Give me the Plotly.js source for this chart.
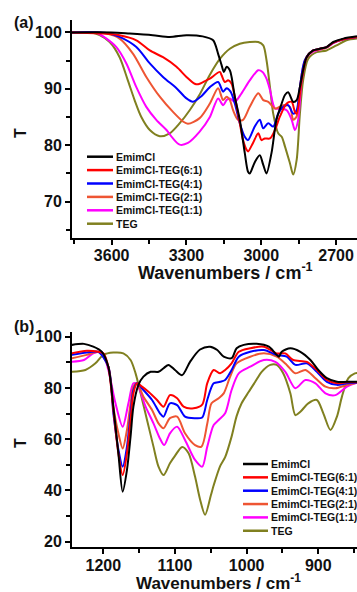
<!DOCTYPE html>
<html>
<head>
<meta charset="utf-8">
<script src="https://cdn.plot.ly/plotly-3.0.1.min.js"></script>
<style>html,body{margin:0;padding:0;background:#fff;}#chart{width:357px;height:592px;}</style>
</head>
<body>
<div id="chart"></div>
<script>
// ---------- Series names ----------
const seriesNames = ["EmimCl", "EmimCl-TEG(6:1)", "EmimCl-TEG(4:1)", "EmimCl-TEG(2:1)", "EmimCl-TEG(1:1)", "TEG"];

// ---------- Panel (a): 3760-2616 cm-1 ----------
const aEmimWn = [3760,3600,3528,3435,3367,3300,3235,3193,3173,3159,3150,3139,3126,3119,3106,3086,3066,3053,3046,3026,3006,2992,2979,2959,2939,2918,2905,2892,2872,2858,2845,2832,2818,2792,2765,2738,2711,2671,2616];
const aEmimT  = [100,100,99.8,99.5,99.2,99.5,99.3,98.6,96.2,94.2,93.0,93.9,93.3,92.1,88.6,84.5,78.6,75.3,75.0,77.0,78.2,76.5,75.0,78.6,84.5,87.4,88.9,89.4,87.7,88.0,90.3,93.3,95.6,96.8,97.1,97.4,98.3,98.9,99.3];

const a61Wn = [3760,3636,3568,3501,3447,3394,3340,3300,3267,3253,3220,3206,3166,3159,3146,3133,3119,3106,3086,3073,3059,3053,3033,3012,2999,2986,2965,2945,2925,2898,2878,2865,2858,2838,2818,2792,2765,2738,2711,2671,2616];
const a61T  = [100,99.8,99.5,98.6,96.8,95.6,93.9,92.1,90.9,90.8,91.5,91.8,93.0,92.4,91.2,91.5,90.9,88.6,83.9,80.9,79.2,78.9,80.4,82.1,80.9,81.2,81.2,82.7,85.1,87.4,87.7,85.9,85.6,91.5,95.6,96.8,97.1,97.4,98.2,98.8,99.2];

const a41Wn = [3760,3620,3568,3501,3447,3394,3340,3300,3274,3240,3206,3173,3153,3139,3123,3106,3086,3066,3053,3026,3006,2992,2972,2952,2932,2912,2892,2872,2858,2845,2825,2792,2765,2738,2711,2671,2616];
const a41T  = [100,99.9,99.2,97.4,94.5,92.1,90.1,88.3,87.7,88.7,90.3,91.2,89.5,90.1,89.5,87.4,83.9,81.5,80.9,83.3,84.5,83.0,83.9,83.3,85.6,86.8,87.1,85.6,86.2,90.3,95.1,96.8,97.1,97.4,98.2,98.8,99.2];

const a21Wn = [3760,3620,3568,3514,3461,3407,3354,3314,3294,3247,3206,3173,3153,3139,3126,3113,3093,3073,3046,3012,2992,2972,2945,2912,2885,2872,2858,2845,2825,2792,2765,2738,2711,2671,2616];
const a21T  = [100,99.8,98.9,96.2,92.1,88.6,85.9,84.2,83.8,84.8,87.4,90.1,88.0,88.6,88.0,86.2,84.5,84.5,86.8,89.2,88.0,87.7,86.5,87.1,86.8,84.5,85.1,90.3,95.0,96.7,97.0,97.3,98.2,98.8,99.2];

const a11Wn = [3760,3660,3621,3581,3541,3501,3461,3421,3380,3354,3327,3294,3247,3206,3173,3153,3139,3126,3106,3079,3046,3012,2995,2979,2965,2945,2925,2898,2878,2865,2852,2838,2818,2792,2738,2711,2671,2616];
const a11T  = [100,99.9,98.9,97.4,94.5,90.3,86.8,84.5,82.7,81.2,80.1,80.4,82.4,85.0,88.3,87.1,88.0,88.3,87.7,89.2,91.5,93.3,93.0,91.8,89.8,86.5,86.5,86.2,84.5,82.7,84.5,91.5,95.6,96.6,97.3,98.1,98.8,99.2];

const aTegWn = [3760,3680,3648,3608,3568,3535,3508,3481,3447,3407,3367,3327,3287,3247,3206,3166,3126,3086,3046,3012,2992,2979,2965,2952,2932,2918,2905,2885,2872,2858,2845,2832,2812,2778,2738,2698,2658,2616];
const aTegT  = [100,100,99.5,98.3,95.6,91.5,88.0,85.0,82.7,81.6,82.1,83.9,86.2,89.0,92.5,95.3,97.1,98.0,98.3,98.3,97.7,95.1,90.3,85.6,82.1,81.5,79.8,76.8,74.8,77.4,85.6,91.5,95.3,96.5,96.8,97.7,98.6,98.9];

// ---------- Panel (b): 1244-846 cm-1 ----------
const bEmimWn = [1244,1227,1214,1202,1193,1186,1179,1173,1167,1162,1158,1151,1144,1134,1123,1116,1109,1100,1090,1079,1065,1051,1041,1032,1021,1014,1004,986,969,960,955,951,939,925,911,900,888,874,860,846];
const bEmimT  = [96.8,97.2,96.1,94.1,88.3,72.7,54.5,39.5,48.0,61.0,72.7,81.2,84.4,86.3,86.3,87.7,89.0,87.0,85.0,90.2,95.0,96.1,94.8,92.2,91.6,95.5,96.8,97.2,96.1,93.5,92.2,94.1,95.5,94.1,90.9,87.0,83.8,82.4,82.4,82.4];

const b61Wn = [1244,1223,1207,1200,1193,1186,1179,1173,1167,1162,1158,1153,1146,1137,1125,1116,1107,1097,1088,1074,1062,1055,1046,1037,1030,1021,1011,995,976,958,946,935,916,902,888,874,860,846];
const b61T  = [93.5,94.5,94.1,93.5,88.3,71.4,54.5,46.0,54.5,67.5,77.9,81.8,80.5,78.5,75.3,72.7,77.2,76.0,72.7,72.1,73.5,81.8,87.0,85.7,87.0,89.6,94.1,95.5,96.1,93.5,93.5,90.9,90.2,87.0,83.1,81.8,82.2,82.2];

const b41Wn = [1244,1223,1207,1193,1186,1179,1173,1167,1162,1158,1153,1144,1132,1121,1116,1107,1097,1086,1072,1062,1055,1046,1037,1030,1021,1011,995,976,958,944,932,916,902,888,874,860,846];
const b41T  = [92.9,93.8,94.1,88.3,70.1,56.0,49.3,57.1,70.1,79.2,81.8,79.2,75.3,70.1,68.8,74.0,73.3,68.8,68.2,68.5,75.3,81.8,82.4,83.1,87.0,92.2,94.1,94.8,92.9,92.2,89.0,89.6,86.3,82.4,81.2,81.8,82.0];

const b21Wn = [1244,1223,1207,1193,1186,1179,1173,1167,1162,1158,1153,1144,1132,1123,1116,1107,1097,1086,1072,1063,1055,1049,1039,1032,1023,1014,995,976,958,944,932,918,904,890,876,860,846];
const b21T  = [91.6,92.9,94.1,88.3,72.7,62.3,56.4,63.6,74.0,80.5,81.8,76.6,71.4,66.2,64.3,68.2,68.8,62.3,57.7,57.1,66.0,74.0,76.0,77.9,84.4,89.6,92.2,93.5,92.2,89.0,85.7,87.0,83.8,80.5,79.9,81.2,82.0];

const b11Wn = [1244,1227,1214,1202,1193,1183,1173,1165,1158,1153,1141,1130,1121,1115,1107,1097,1086,1072,1062,1055,1046,1039,1030,1021,1011,995,976,960,946,932,918,904,890,876,860,846];
const b11T  = [90.2,90.9,93.5,94.1,87.0,74.0,64.9,74.0,81.8,81.5,72.7,66.2,60.3,57.7,62.3,64.9,59.7,51.9,49.3,57.0,65.5,67.5,70.1,79.2,85.7,88.3,90.9,90.2,86.3,79.9,83.1,81.8,77.9,77.2,80.5,82.0];

const bTegWn = [1244,1225,1211,1200,1186,1172,1162,1155,1148,1139,1130,1123,1116,1107,1100,1090,1081,1072,1065,1058,1050,1046,1037,1030,1021,1014,1007,997,988,979,967,958,949,939,932,925,914,902,893,883,874,867,858,849,846];
const bTegT  = [86.3,87.0,89.6,92.9,93.8,93.5,90.9,85.7,77.9,67.5,57.1,49.3,46.0,50.6,53.5,57.0,54.5,45.4,36.5,30.5,38.0,42.0,49.5,53.0,61.0,69.0,74.0,78.5,82.4,86.3,89.0,89.0,85.7,77.9,69.4,70.7,74.0,75.3,70.1,63.6,68.8,76.6,83.8,85.7,85.8];

// ---------- Styles ----------
const colors = ["#000000", "#ff0000", "#0000ff", "#ee5533", "#ff00ff", "#808020"];
const FONT = "Liberation Sans, Arial, Helvetica, sans-serif";
const TXT = "#111111";

const panelA = [[aEmimWn,aEmimT],[a61Wn,a61T],[a41Wn,a41T],[a21Wn,a21T],[a11Wn,a11T],[aTegWn,aTegT]];
const panelB = [[bEmimWn,bEmimT],[b61Wn,b61T],[b41Wn,b41T],[b21Wn,b21T],[b11Wn,b11T],[bTegWn,bTegT]];

const traces = [];
const drawOrder = [5,4,3,2,1,0];
drawOrder.forEach(i => {
  traces.push({x: panelA[i][0], y: panelA[i][1], name: seriesNames[i], type: "scatter", mode: "lines",
    line: {color: colors[i], width: 2, shape: "spline", smoothing: 0.8}, xaxis: "x", yaxis: "y", showlegend: false});
});
drawOrder.forEach(i => {
  traces.push({x: panelB[i][0], y: panelB[i][1], name: seriesNames[i], type: "scatter", mode: "lines",
    line: {color: colors[i], width: 2, shape: "spline", smoothing: 0.8}, xaxis: "x2", yaxis: "y2", showlegend: false});
});

const W = 357, H = 592;
const px = v => v / W;
const py = v => 1 - v / H;

// manual compact legends (Plotly's legend rows are taller than the original's)
const shapes = [], annotations = [];
function legend(x0, x1, xt, yTop, step) {
  seriesNames.forEach((n, i) => {
    const yy = py(yTop + i * step);
    shapes.push({type: "line", xref: "paper", yref: "paper", x0: px(x0), x1: px(x1), y0: yy, y1: yy,
      line: {color: colors[i], width: 2.5}});
    annotations.push({xref: "paper", yref: "paper", x: px(xt), y: yy, xanchor: "left", yanchor: "middle",
      text: n, showarrow: false, font: {family: FONT, size: 10.5, color: TXT, weight: "bold"}});
  });
}
legend(87, 113, 114, 156.7, 13.4);
legend(243, 268, 269, 464, 13.35);

function label(text, x, y, size, angle) {
  annotations.push({xref: "paper", yref: "paper", x: px(x), y: py(y), xanchor: "center", yanchor: "middle",
    text: text, showarrow: false, textangle: angle || 0, font: {family: FONT, size: size, color: TXT, weight: "bold"}});
}
annotations.push({xref: "paper", yref: "paper", x: px(12), y: py(23), xanchor: "left", yanchor: "middle",
  text: "(a)", showarrow: false, font: {family: FONT, size: 16, color: TXT, weight: "bold"}});
annotations.push({xref: "paper", yref: "paper", x: px(12), y: py(326), xanchor: "left", yanchor: "middle",
  text: "(b)", showarrow: false, font: {family: FONT, size: 16, color: TXT, weight: "bold"}});
// axis titles
label("Wavenumbers / cm<sup>-1</sup>", 225, 271, 18, 0);
label("Wavenumbers / cm<sup>-1</sup>", 218, 582, 17, 0);
label("T", 20, 133, 16, -90);
label("T", 20, 443, 16, -90);

const tickFont = {family: FONT, size: 16, color: TXT, weight: "bold"};
const common = {showline: true, linewidth: 2, linecolor: "#000", ticks: "outside", ticklen: 5, tickwidth: 2,
  tickcolor: "#000", showgrid: false, zeroline: false, tickfont: tickFont, mirror: false};

const layout = {
  width: W, height: H,
  margin: {l: 0, r: 0, t: 0, b: 0},
  paper_bgcolor: "#fff", plot_bgcolor: "#fff",
  showlegend: false,
  xaxis: Object.assign({}, common, {domain: [px(72), 1], range: [3759, 2616], anchor: "y",
    tick0: 0, dtick: 300, ticklabelstandoff: -3,
    minor: {dtick: 150, ticks: "outside", ticklen: 4, tickwidth: 1.5, tickcolor: "#000"}}),
  yaxis: Object.assign({}, common, {domain: [py(237.7), py(20)], range: [63.6, 102.2], anchor: "x",
    tick0: 0, dtick: 10, minor: {dtick: 5, ticks: "outside", ticklen: 4, tickwidth: 1.5, tickcolor: "#000"}}),
  xaxis2: Object.assign({}, common, {domain: [px(72), 1], range: [1243.7, 846], anchor: "y2",
    tick0: 0, dtick: 100, ticklabelstandoff: -2,
    minor: {dtick: 50, ticks: "outside", ticklen: 4, tickwidth: 1.5, tickcolor: "#000"}}),
  yaxis2: Object.assign({}, common, {domain: [py(546.7), py(331.7)], range: [18.05, 101.95], anchor: "x2",
    tick0: 0, dtick: 20, minor: {dtick: 10, ticks: "outside", ticklen: 4, tickwidth: 1.5, tickcolor: "#000"}}),
  shapes: shapes,
  annotations: annotations
};

Plotly.newPlot("chart", traces, layout, {displayModeBar: false, responsive: false});
</script>
</body>
</html>
